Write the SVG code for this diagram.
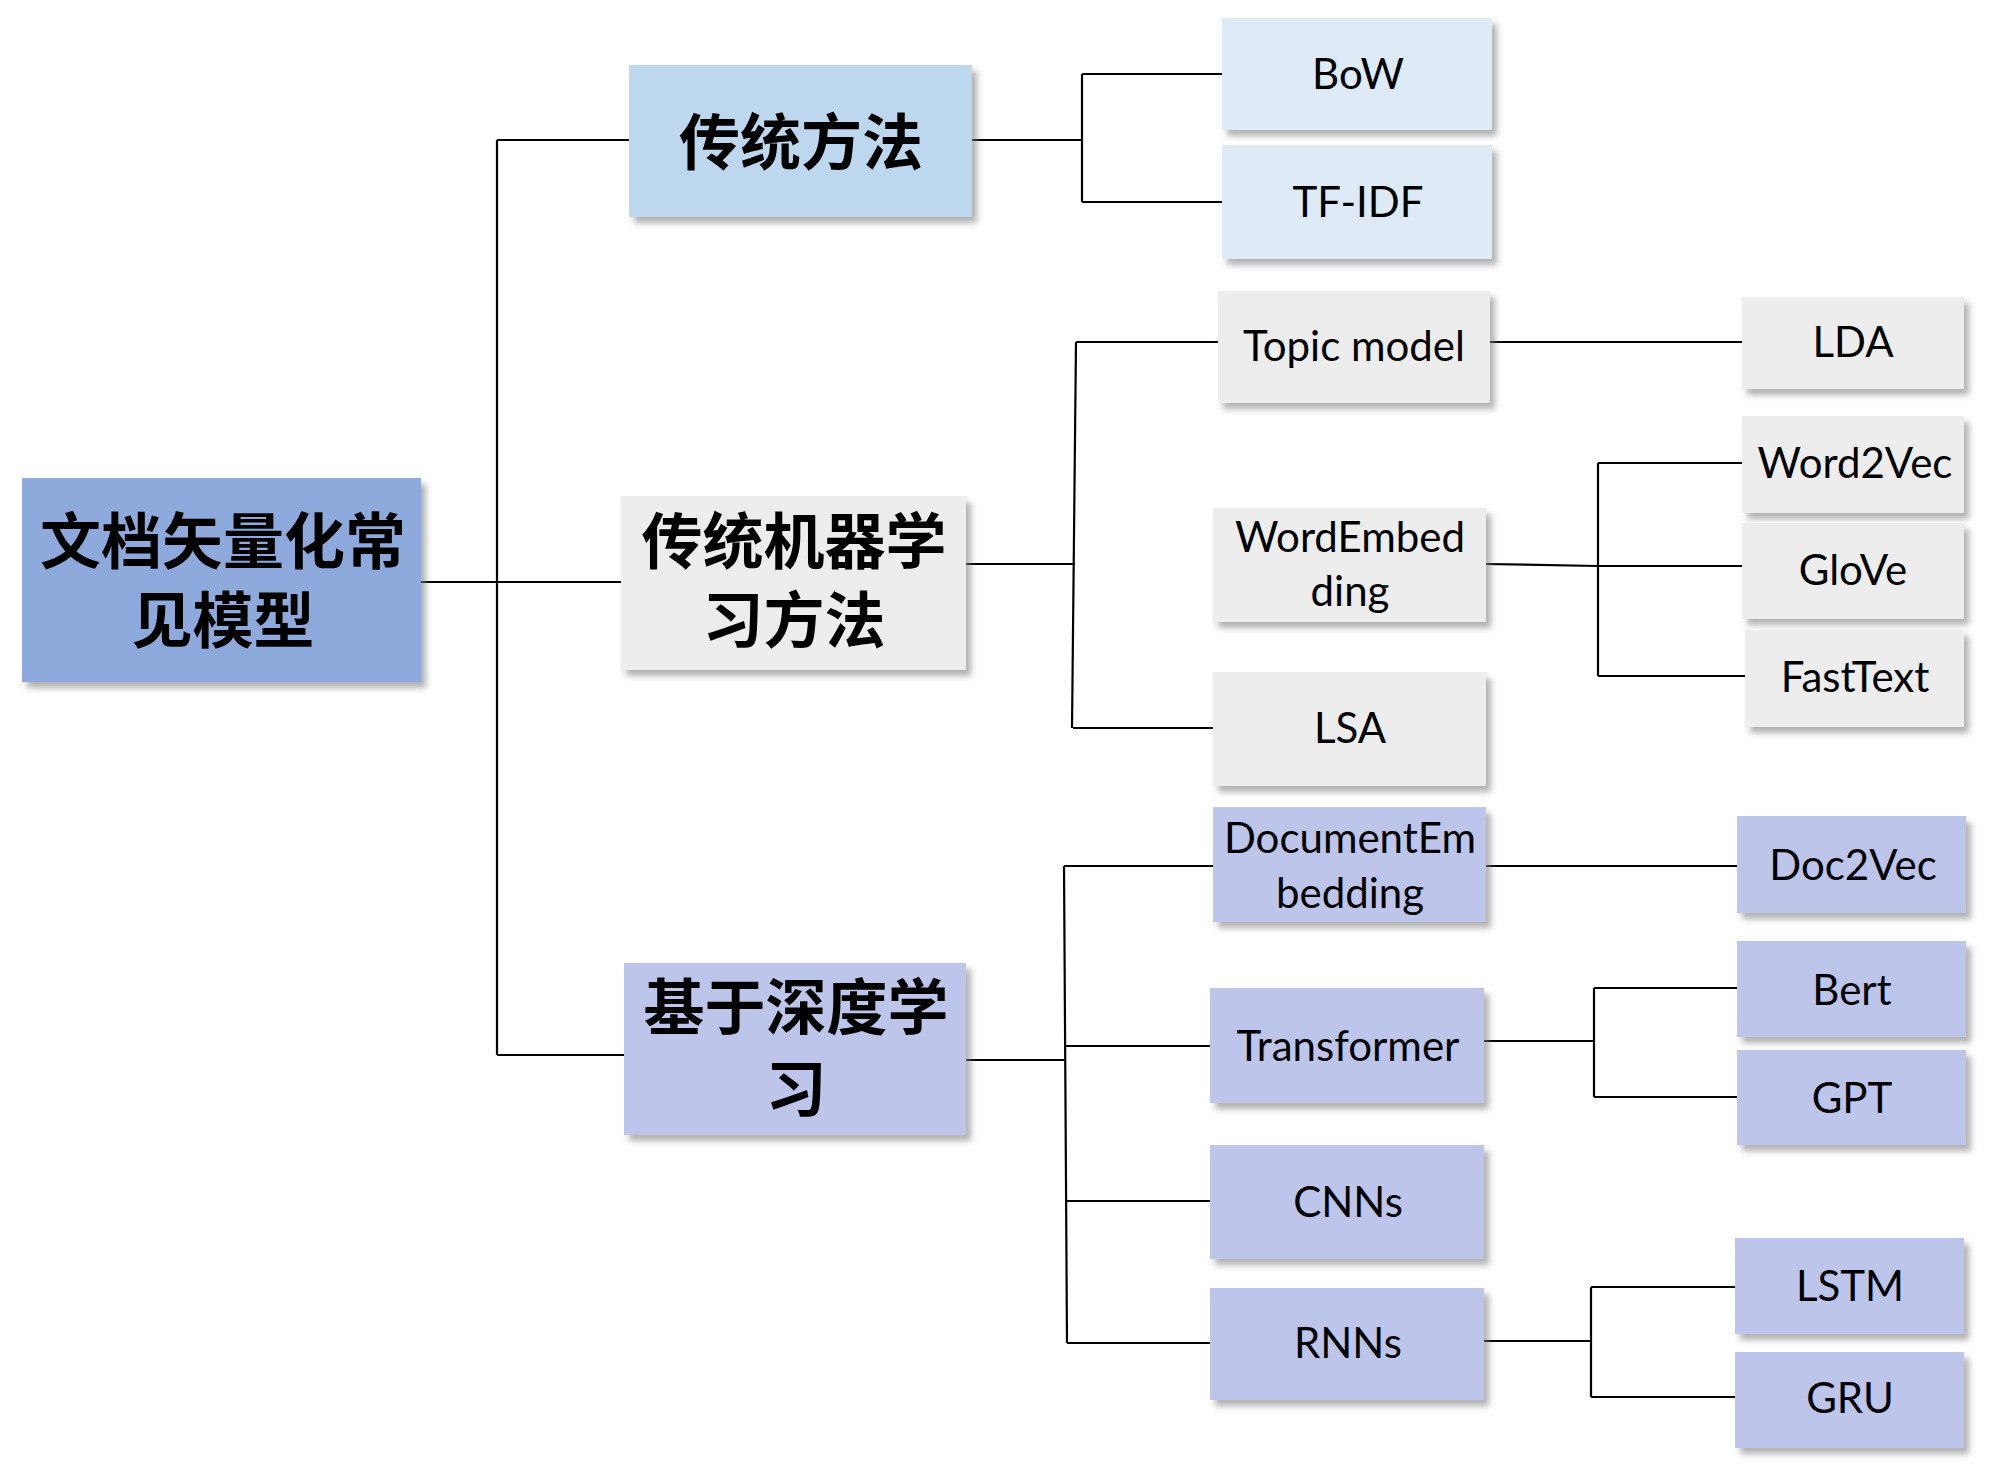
<svg xmlns="http://www.w3.org/2000/svg" width="2000" height="1476" viewBox="0 0 2000 1476">
<defs>
<filter id="sh" x="-10%" y="-10%" width="130%" height="140%">
<feDropShadow dx="5" dy="6" stdDeviation="3" flood-color="#7f7f7f" flood-opacity="0.6"/>
</filter>
</defs>
<style>
.b{filter:url(#sh)}
.root{fill:#8EA9DB}
.l1a{fill:#BDD7EE}
.l2a{fill:#DEEBF7}
.g{fill:#EDEDED}
.p{fill:#BDC5EB}
.cn{font-family:"Noto Sans CJK SC","Noto Sans",sans-serif;font-weight:bold;font-size:61px;fill:#000;text-anchor:middle}
.en{font-family:Lato,"Liberation Sans",sans-serif;font-size:42px;fill:#000;text-anchor:middle}
.c{fill:none;stroke:#000;stroke-width:2.2}
</style>
<rect width="2000" height="1476" fill="#fff"/>
<g id="connectors">
<path class="c" d="M421,582 H621 M497,140 V1055 M497,140 H629 M497,1055 H624"/>
<path class="c" d="M972,140 H1082 M1082,74 V202 M1082,74 H1222 M1082,202 H1222"/>
<path class="c" d="M966,564 H1075 M1076,342 L1072,728 M1076,342 H1218 M1073,728 H1213"/>
<path class="c" d="M1490,342 H1742"/>
<path class="c" d="M1486,564 L1598,566 H1742 M1598,463 V676 M1598,463 H1742 M1598,676 H1745"/>
<path class="c" d="M966,1060 H1064 M1064,866 L1067,1343 M1064,866 H1213 M1065,1046 H1210 M1066,1201 H1210 M1067,1343 H1210"/>
<path class="c" d="M1486,866 H1737"/>
<path class="c" d="M1484,1041 H1594 M1594,988 V1097 M1594,988 H1737 M1594,1097 H1737"/>
<path class="c" d="M1484,1341 H1591 M1591,1287 V1397 M1591,1287 H1735 M1591,1397 H1735"/>
</g>
<g id="root"><rect class="b root" x="22" y="478" width="399" height="204"/><text class="cn"><tspan x="223" y="564">文档矢量化常</tspan><tspan x="223" y="643">见模型</tspan></text></g>
<g id="trad"><rect class="b l1a" x="629" y="65" width="343" height="152"/><text class="cn" x="801" y="165">传统方法</text></g>
<g id="bow"><rect class="b l2a" x="1222" y="18" width="270" height="112"/><text class="en" x="1358" y="89">BoW</text></g>
<g id="tfidf"><rect class="b l2a" x="1222" y="145" width="270" height="114"/><text class="en" x="1358" y="217">TF-IDF</text></g>
<g id="ml"><rect class="b g" x="621" y="496" width="345" height="174"/><text class="cn"><tspan x="794" y="564">传统机器学</tspan><tspan x="794" y="643">习方法</tspan></text></g>
<g id="topic"><rect class="b g" x="1218" y="291" width="272" height="112"/><text class="en" x="1354" y="361">Topic model</text></g>
<g id="lda"><rect class="b g" x="1742" y="297" width="222" height="92"/><text class="en" x="1853" y="357">LDA</text></g>
<g id="wordemb"><rect class="b g" x="1213" y="508" width="273" height="114"/><text class="en"><tspan x="1350" y="552">WordEmbed</tspan><tspan x="1350" y="606">ding</tspan></text></g>
<g id="w2v"><rect class="b g" x="1742" y="416" width="222" height="97"/><text class="en" x="1855" y="478">Word2Vec</text></g>
<g id="glove"><rect class="b g" x="1742" y="523" width="222" height="96"/><text class="en" x="1853" y="585">GloVe</text></g>
<g id="fasttext"><rect class="b g" x="1745" y="630" width="219" height="97"/><text class="en" x="1855" y="692">FastText</text></g>
<g id="lsa"><rect class="b g" x="1213" y="672" width="273" height="114"/><text class="en" x="1350" y="743">LSA</text></g>
<g id="dl"><rect class="b p" x="624" y="963" width="342" height="172"/><text class="cn"><tspan x="796" y="1030">基于深度学</tspan><tspan x="796" y="1112">习</tspan></text></g>
<g id="docemb"><rect class="b p" x="1213" y="807" width="273" height="115"/><text class="en"><tspan x="1350" y="853">DocumentEm</tspan><tspan x="1350" y="908">bedding</tspan></text></g>
<g id="doc2vec"><rect class="b p" x="1737" y="816" width="229" height="97"/><text class="en" x="1853" y="880">Doc2Vec</text></g>
<g id="transformer"><rect class="b p" x="1210" y="988" width="274" height="115"/><text class="en" x="1348" y="1061">Transformer</text></g>
<g id="bert"><rect class="b p" x="1737" y="941" width="229" height="96"/><text class="en" x="1852" y="1005">Bert</text></g>
<g id="gpt"><rect class="b p" x="1737" y="1050" width="229" height="95"/><text class="en" x="1852" y="1113">GPT</text></g>
<g id="cnns"><rect class="b p" x="1210" y="1145" width="274" height="114"/><text class="en" x="1348" y="1217">CNNs</text></g>
<g id="rnns"><rect class="b p" x="1210" y="1288" width="274" height="112"/><text class="en" x="1348" y="1358">RNNs</text></g>
<g id="lstm"><rect class="b p" x="1735" y="1238" width="229" height="96"/><text class="en" x="1850" y="1301">LSTM</text></g>
<g id="gru"><rect class="b p" x="1735" y="1352" width="229" height="96"/><text class="en" x="1850" y="1413">GRU</text></g>
</svg>
